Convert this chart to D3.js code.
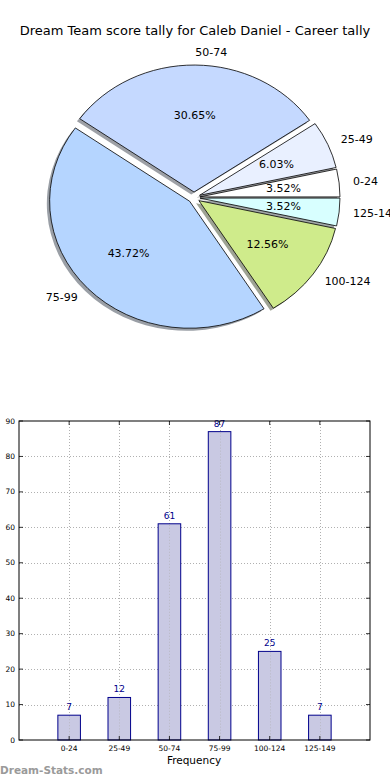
<!DOCTYPE html>
<html>
<head>
<meta charset="utf-8">
<script src="https://cdn.jsdelivr.net/npm/d3@7"></script>
<style>
  html, body { margin: 0; padding: 0; background: #fff; }
  svg { display: block; font-family: "DejaVu Sans", sans-serif; }
</style>
</head>
<body>
<svg id="chart" width="390" height="780"></svg>
<script>
const title = "Dream Team score tally for Caleb Daniel - Career tally";
const categories = ["0-24", "25-49", "50-74", "75-99", "100-124", "125-149"];
const counts = [7, 12, 61, 87, 25, 7];
const pieColors = ["#ffffff", "#e9f0ff", "#c5d9ff", "#b5d5ff", "#cfeb8b", "#d8ffff"];
const yTicks = [0, 10, 20, 30, 40, 50, 60, 70, 80, 90];
const xLabel = "Frequency";
const watermark = "Dream-Stats.com";

(function () {
const svg = d3.select("#chart");

// Title
svg.append("text")
  .attr("x", 195).attr("y", 35)
  .attr("text-anchor", "middle")
  .attr("font-size", 13)
  .attr("fill", "#000")
  .text(title);

// ---------- Pie (elliptical, matplotlib style) ----------
const cx = 194, cy = 197.5, rx = 140, ry = 127;
const R = 100, sx = rx / R, sy = ry / R;
const explode = 4.3; // in R units
const total = d3.sum(counts);

const pie = d3.pie().sort(null).value(d => d)
  .startAngle(Math.PI / 2).endAngle(Math.PI / 2 - 2 * Math.PI);
const arcs = pie(counts);
const arcGen = d3.arc().innerRadius(0).outerRadius(R);

const pieG = svg.append("g").attr("transform", `translate(${cx},${cy}) scale(${sx},${sy})`);

function mid(a) { return (a.startAngle + a.endAngle) / 2; }

// shadows
pieG.selectAll("path.shadow").data(arcs).enter().append("path")
  .attr("class", "shadow")
  .attr("transform", d => {
    const m = mid(d);
    return `translate(${explode * Math.sin(m) - 2},${-explode * Math.cos(m) + 2})`;
  })
  .attr("d", arcGen)
  .attr("fill", (d, i) => {
    const c = d3.rgb(pieColors[i]);
    return d3.rgb(c.r * 0.3, c.g * 0.3, c.b * 0.3);
  })
  .attr("opacity", 0.5);

// wedges
pieG.selectAll("path.wedge").data(arcs).enter().append("path")
  .attr("class", "wedge")
  .attr("transform", d => {
    const m = mid(d);
    return `translate(${explode * Math.sin(m)},${-explode * Math.cos(m)})`;
  })
  .attr("d", arcGen)
  .attr("fill", (d, i) => pieColors[i])
  .attr("stroke", "#000")
  .attr("stroke-width", 0.8)
  .attr("vector-effect", "non-scaling-stroke");

// labels
arcs.forEach((d, i) => {
  const m = mid(d);
  const s = Math.sin(m), c = -Math.cos(m);
  const lx = cx + sx * (explode * s + 1.1 * R * s);
  const ly = cy + sy * (explode * c + 1.1 * R * c);
  svg.append("text")
    .attr("x", lx).attr("y", ly)
    .attr("text-anchor", (explode * s + 1.1 * R * s) > 0 ? "start" : "end")
    .attr("dominant-baseline", "central")
    .attr("font-size", 11)
    .attr("fill", "#000")
    .text(categories[i]);
  const px = cx + sx * (explode * s + 0.6 * R * s);
  const py = cy + sy * (explode * c + 0.6 * R * c);
  svg.append("text")
    .attr("x", px).attr("y", py)
    .attr("text-anchor", "middle")
    .attr("dominant-baseline", "central")
    .attr("font-size", 11)
    .attr("fill", "#000")
    .text((d.value / total * 100).toFixed(2) + "%");
});

// ---------- Bar chart ----------
const pLeft = 19, pRight = 370, pTop = 421, pBottom = 740;
const x = d3.scaleLinear().domain([-1, 6]).range([pLeft, pRight]);
const y = d3.scaleLinear().domain([0, 90]).range([pBottom, pTop]);
const barW = 0.45;

const bg = svg.append("g");

// grid
bg.selectAll("line.hgrid").data(yTicks.slice(1, -1)).enter().append("line")
  .attr("x1", pLeft).attr("x2", pRight)
  .attr("y1", d => Math.round(y(d)) + 0.5).attr("y2", d => Math.round(y(d)) + 0.5)
  .attr("stroke", "#b0b0b0").attr("stroke-width", 1)
  .attr("stroke-dasharray", "1,2");
bg.selectAll("line.vgrid").data(categories).enter().append("line")
  .attr("x1", (d, i) => Math.round(x(i)) + 0.5).attr("x2", (d, i) => Math.round(x(i)) + 0.5)
  .attr("y1", pTop).attr("y2", pBottom)
  .attr("stroke", "#b0b0b0").attr("stroke-width", 1)
  .attr("stroke-dasharray", "1,2");

// bars
bg.selectAll("rect.bar").data(counts).enter().append("rect")
  .attr("x", (d, i) => x(i - barW / 2))
  .attr("width", x(barW) - x(0))
  .attr("y", d => y(d))
  .attr("height", d => y(0) - y(d))
  .attr("fill", "#c9c9e3")
  .attr("stroke", "#00008b")
  .attr("stroke-width", 1);

// grid over bars (faint, as in the reference)
bg.selectAll("line.vgrid2").data(categories).enter().append("line")
  .attr("x1", (d, i) => Math.round(x(i)) + 0.5).attr("x2", (d, i) => Math.round(x(i)) + 0.5)
  .attr("y1", (d, i) => y(counts[i]) + 1).attr("y2", pBottom)
  .attr("stroke", "#b0b0b0").attr("stroke-width", 1).attr("opacity", 0.6)
  .attr("stroke-dasharray", "1,2");

// value labels
bg.selectAll("text.val").data(counts).enter().append("text")
  .attr("x", (d, i) => x(i))
  .attr("y", d => y(d) - 5)
  .attr("text-anchor", "middle")
  .attr("font-size", 9)
  .attr("fill", "#00008b")
  .text(d => d);

// frame
bg.append("rect")
  .attr("x", pLeft).attr("y", pTop)
  .attr("width", pRight - pLeft).attr("height", pBottom - pTop)
  .attr("fill", "none").attr("stroke", "#000").attr("stroke-width", 1);

// ticks (inward)
yTicks.forEach(t => {
  bg.append("line").attr("x1", pLeft).attr("x2", pLeft + 4).attr("y1", y(t)).attr("y2", y(t))
    .attr("stroke", "#000").attr("stroke-width", 0.8);
  bg.append("line").attr("x1", pRight).attr("x2", pRight - 4).attr("y1", y(t)).attr("y2", y(t))
    .attr("stroke", "#000").attr("stroke-width", 0.8);
});
categories.forEach((c, i) => {
  bg.append("line").attr("x1", x(i)).attr("x2", x(i)).attr("y1", pBottom).attr("y2", pBottom - 4)
    .attr("stroke", "#000").attr("stroke-width", 0.8);
  bg.append("line").attr("x1", x(i)).attr("x2", x(i)).attr("y1", pTop).attr("y2", pTop + 4)
    .attr("stroke", "#000").attr("stroke-width", 0.8);
});

// y tick labels
bg.selectAll("text.ytick").data(yTicks).enter().append("text")
  .attr("x", pLeft - 4).attr("y", d => y(d))
  .attr("text-anchor", "end")
  .attr("dominant-baseline", "central")
  .attr("font-size", 7.5)
  .attr("fill", "#000")
  .text(d => d);

// x tick labels
bg.selectAll("text.xtick").data(categories).enter().append("text")
  .attr("x", (d, i) => x(i)).attr("y", 751)
  .attr("text-anchor", "middle")
  .attr("font-size", 7.5)
  .attr("fill", "#000")
  .text(d => d);

// x label
svg.append("text")
  .attr("x", 194).attr("y", 764)
  .attr("text-anchor", "middle")
  .attr("font-size", 10.5)
  .attr("fill", "#000")
  .text(xLabel);

// watermark
svg.append("text")
  .attr("x", 0).attr("y", 774)
  .attr("font-size", 10.5)
  .attr("font-weight", "bold")
  .attr("fill", "#9a9a9a")
  .text(watermark);
})();
</script>
</body>
</html>
